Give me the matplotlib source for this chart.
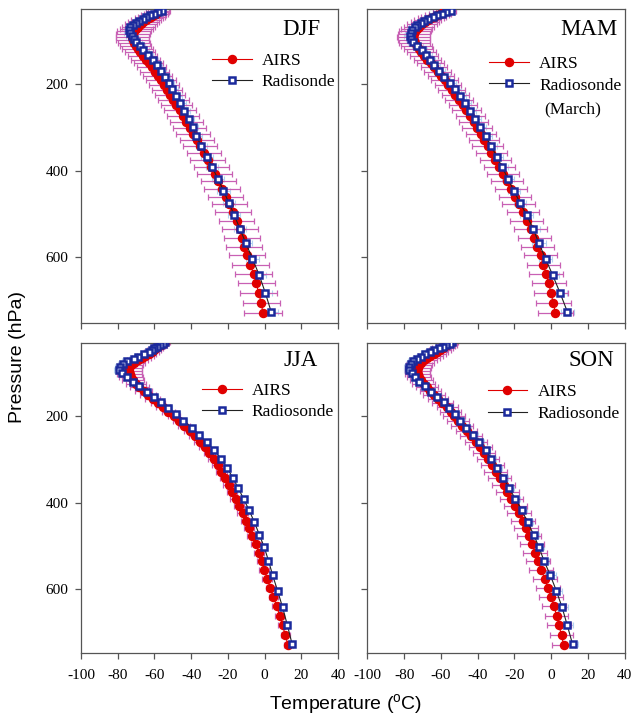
import matplotlib
matplotlib.use("Agg")
import matplotlib.pyplot as plt

plt.rcParams['font.family'] = ['Liberation Serif', 'DejaVu Serif']
plt.rcParams['mathtext.fontset'] = 'custom'
plt.rcParams['mathtext.rm'] = 'Liberation Sans'
plt.rcParams['axes.unicode_minus'] = False

# AIRS retrieval levels (hPa)
AIRS_P = [29.12, 32.27, 35.65, 39.26, 43.10, 47.19, 51.53, 56.13, 60.99, 66.13,
          71.54, 77.24, 83.23, 89.52, 96.11, 103.02, 110.24, 117.78, 125.65, 133.85,
          142.38, 151.27, 160.50, 170.08, 180.02, 190.32, 200.99, 212.03, 223.44, 235.23,
          247.41, 259.97, 272.92, 286.26, 300.00, 314.14, 328.68, 343.62, 358.97, 374.72,
          390.89, 407.47, 424.47, 441.88, 459.71, 477.96, 496.63, 515.72, 535.23, 555.17,
          575.52, 596.31, 617.51, 639.14, 661.19, 683.67, 706.57, 729.89]

# radiosonde levels (hPa)
RS_P = [30, 33, 36, 40, 44, 48, 53, 58, 63, 68,
        74, 80, 87, 94, 102, 111, 121, 132, 144, 156,
        169, 182, 196, 211, 227, 244, 261, 279, 299, 320,
        343, 367, 392, 418, 446, 474, 503, 534, 568, 604,
        642, 683, 727]

# ---- DJF ----
DJF_AIRS = [-57.3, -58.2, -59.2, -60.5, -61.8, -63.2, -64.6, -66.0, -67.4, -68.8,
            -70.0, -71.0, -71.7, -72.0, -71.8, -71.2, -70.3, -69.2, -67.9, -66.4,
            -64.8, -63.2, -61.5, -59.8, -58.1, -56.5, -54.9, -53.2, -51.5, -49.8,
            -48.0, -46.2, -44.5, -42.7, -40.9, -39.0, -37.0, -35.0, -33.0, -31.0,
            -29.0, -27.1, -25.2, -23.2, -21.2, -19.2, -17.2, -15.3, -13.6, -12.3,
            -11.0, -9.6, -7.7, -6.0, -4.5, -3.2, -1.8, -0.9]
DJF_ERR = [6.0, 6.3, 6.6, 7.0, 7.3, 7.6, 8.0, 8.3, 8.6, 8.9,
           9.0, 9.2, 9.2, 9.1, 9.0, 8.8, 8.6, 8.4, 8.2, 8.0,
           7.9, 7.8, 7.8, 7.8, 7.9, 8.0, 8.1, 8.2, 8.3, 8.4,
           8.6, 8.7, 8.8, 8.9, 9.0, 9.1, 9.2, 9.3, 9.4, 9.4,
           9.5, 9.5, 9.6, 9.6, 9.6, 9.7, 9.7, 9.7, 9.8, 9.8,
           9.8, 9.9, 9.9, 9.9, 10.0, 10.0, 10.1, 10.2]
DJF_RS = [-56.0, -58.2, -60.3, -62.5, -64.5, -66.4, -68.3, -70.2, -71.8, -73.2,
          -73.8, -73.5, -72.5, -71.4, -70.0, -68.0, -66.0, -63.5, -61.0, -58.8,
          -56.5, -54.3, -52.3, -50.3, -48.2, -46.0, -43.8, -41.3, -39.2, -37.2,
          -34.4, -31.4, -28.5, -25.5, -22.4, -19.5, -16.5, -13.5, -10.2, -6.6,
          -2.9, 0.4, 3.6]
DJF_RS_ERR = [2.5, 2.5, 2.5, 2.6, 2.6, 2.7, 2.7, 2.8, 2.8, 2.9,
              3.0, 3.0, 3.0, 3.0, 3.0, 2.9, 2.9, 2.8, 2.8, 2.8,
              2.8, 2.8, 2.9, 2.9, 3.0, 3.0, 3.0, 3.1, 3.1, 3.1,
              3.2, 3.2, 3.2, 3.3, 3.3, 3.3, 3.3, 3.4, 3.4, 3.4,
              3.5, 3.5, 3.5]

# ---- MAM ----
MAM_AIRS = [-57.1, -58.7, -60.4, -62.1, -63.8, -65.5, -67.2, -68.8, -70.4, -71.9,
            -73.2, -74.2, -74.8, -75.0, -74.8, -74.2, -73.3, -72.1, -70.7, -69.1,
            -67.4, -65.6, -63.7, -61.8, -59.9, -58.0, -56.1, -54.1, -52.1, -50.1,
            -48.1, -46.1, -44.1, -42.2, -40.3, -38.4, -36.5, -34.5, -32.5, -30.4,
            -28.3, -26.2, -24.1, -22.0, -19.9, -17.7, -15.4, -13.3, -11.2, -9.2,
            -7.4, -5.7, -4.2, -2.7, -1.3, 0.0, 1.2, 2.4]
MAM_ERR = [5.5, 5.8, 6.1, 6.5, 6.8, 7.1, 7.4, 7.7, 8.0, 8.3,
           8.5, 8.7, 8.8, 8.8, 8.7, 8.5, 8.3, 8.0, 7.8, 7.6,
           7.4, 7.3, 7.2, 7.2, 7.2, 7.3, 7.3, 7.4, 7.5, 7.6,
           7.7, 7.8, 7.9, 8.0, 8.1, 8.2, 8.3, 8.3, 8.4, 8.5,
           8.5, 8.6, 8.6, 8.7, 8.7, 8.8, 8.8, 8.9, 8.9, 9.0,
           9.0, 9.1, 9.1, 9.2, 9.2, 9.3, 9.4, 9.5]
MAM_RS = [-54.5, -57.0, -59.5, -62.0, -64.5, -66.8, -69.0, -71.0, -72.8, -74.3,
          -75.6, -76.5, -77.0, -76.2, -75.0, -72.8, -70.3, -68.0, -66.0, -63.5,
          -60.8, -58.3, -55.0, -52.3, -49.6, -46.9, -44.2, -41.4, -38.5, -35.7,
          -32.6, -29.6, -26.6, -23.5, -20.3, -16.9, -13.3, -9.8, -6.6, -3.0,
          0.9, 4.9, 8.9]
MAM_RS_ERR = [2.5, 2.5, 2.6, 2.6, 2.7, 2.7, 2.8, 2.8, 2.9, 2.9,
              3.0, 3.0, 3.0, 3.0, 3.0, 2.9, 2.9, 2.9, 2.9, 2.9,
              3.0, 3.0, 3.0, 3.1, 3.1, 3.1, 3.2, 3.2, 3.2, 3.3,
              3.3, 3.3, 3.4, 3.4, 3.4, 3.5, 3.5, 3.5, 3.6, 3.6,
              3.6, 3.7, 3.7]

# ---- JJA ----
JJA_AIRS = [-54.5, -55.4, -56.5, -57.7, -58.9, -60.2, -61.6, -63.2, -65.0, -67.0,
            -69.2, -71.2, -72.8, -73.6, -73.8, -73.5, -72.9, -71.8, -70.2, -68.2,
            -65.8, -63.4, -61.0, -58.3, -55.4, -52.5, -49.4, -46.7, -43.7, -40.9,
            -38.1, -35.4, -32.7, -30.1, -27.6, -25.5, -23.5, -21.5, -19.6, -17.7,
            -15.8, -13.9, -12.0, -10.2, -8.4, -6.6, -4.8, -3.1, -1.6, -0.2,
            1.5, 3.1, 4.8, 6.6, 8.2, 9.8, 11.3, 12.8]
JJA_ERR = [3.0, 3.0, 3.2, 3.4, 3.6, 3.8, 4.0, 4.3, 4.6, 5.0,
           5.5, 6.0, 6.5, 7.0, 7.0, 6.8, 6.4, 6.0, 5.5, 5.0,
           4.6, 4.3, 4.0, 3.8, 3.6, 3.5, 3.4, 3.3, 3.3, 3.2,
           3.2, 3.2, 3.1, 3.1, 3.1, 3.0, 3.0, 3.0, 3.0, 2.9,
           2.9, 2.9, 2.9, 2.8, 2.8, 2.8, 2.8, 2.7, 2.7, 2.7,
           2.7, 2.6, 2.6, 2.6, 2.6, 2.5, 2.5, 2.5]
JJA_RS = [-54.5, -55.5, -56.8, -58.5, -60.0, -61.4, -63.2, -65.8, -68.8, -71.3,
          -75.0, -77.3, -78.9, -79.3, -77.8, -75.2, -71.5, -68.3, -64.0, -60.3,
          -56.5, -52.5, -48.0, -44.2, -39.7, -35.5, -31.5, -27.5, -23.7, -20.4,
          -17.3, -14.3, -11.4, -8.4, -5.5, -2.9, -0.2, 2.1, 4.4, 7.1,
          9.8, 12.4, 15.0]
JJA_RS_ERR = [2.0, 2.0, 2.0, 2.1, 2.1, 2.2, 2.2, 2.3, 2.3, 2.4,
              2.5, 2.5, 2.5, 2.5, 2.4, 2.3, 2.2, 2.1, 2.0, 2.0,
              1.9, 1.9, 1.9, 1.8, 1.8, 1.8, 1.8, 1.7, 1.7, 1.7,
              1.7, 1.7, 1.6, 1.6, 1.6, 1.6, 1.6, 1.6, 1.5, 1.5,
              1.5, 1.5, 1.5]

# ---- SON ----
SON_AIRS = [-55.0, -55.7, -56.5, -57.6, -59.0, -60.5, -62.2, -64.0, -65.8, -67.6,
            -69.3, -70.8, -71.9, -72.6, -72.8, -72.5, -71.8, -70.7, -69.3, -67.6,
            -65.7, -63.8, -61.6, -59.2, -56.6, -54.7, -52.8, -50.7, -48.4, -46.0,
            -43.5, -40.9, -38.5, -36.4, -34.3, -32.1, -30.1, -28.0, -25.8, -23.8,
            -21.6, -19.5, -17.4, -15.5, -13.7, -11.9, -10.2, -8.7, -7.2, -5.4,
            -3.5, -1.8, 0.0, 1.6, 3.0, 4.3, 5.7, 6.9]
SON_ERR = [4.5, 4.7, 5.0, 5.3, 5.6, 5.9, 6.2, 6.5, 6.8, 7.0,
           7.2, 7.3, 7.3, 7.2, 7.0, 6.8, 6.6, 6.4, 6.2, 6.0,
           5.9, 5.8, 5.7, 5.7, 5.7, 5.7, 5.8, 5.8, 5.9, 5.9,
           6.0, 6.0, 6.1, 6.1, 6.2, 6.2, 6.3, 6.3, 6.3, 6.4,
           6.4, 6.4, 6.4, 6.5, 6.5, 6.5, 6.5, 6.5, 6.5, 6.5,
           6.5, 6.5, 6.4, 6.4, 6.4, 6.4, 6.3, 6.3]
SON_RS = [-54.0, -55.0, -57.0, -59.0, -61.0, -63.5, -66.0, -68.5, -71.0, -73.0,
          -75.0, -76.3, -77.2, -77.3, -76.0, -74.0, -71.8, -68.6, -65.5, -62.0,
          -58.5, -55.8, -52.3, -49.4, -46.2, -42.5, -39.0, -35.7, -32.5, -29.4,
          -26.1, -22.8, -19.4, -15.9, -12.7, -9.5, -6.6, -3.9, -0.4, 2.9,
          6.0, 8.8, 11.7]
SON_RS_ERR = [2.2, 2.2, 2.3, 2.3, 2.4, 2.4, 2.5, 2.5, 2.6, 2.6,
              2.7, 2.7, 2.7, 2.7, 2.6, 2.6, 2.5, 2.5, 2.4, 2.4,
              2.4, 2.4, 2.4, 2.5, 2.5, 2.5, 2.5, 2.6, 2.6, 2.6,
              2.7, 2.7, 2.7, 2.8, 2.8, 2.8, 2.9, 2.9, 2.9, 3.0,
              3.0, 3.0, 3.0]

SEASONS = ["DJF", "MAM", "JJA", "SON"]
RS_LABELS = ["Radisonde", "Radiosonde", "Radiosonde", "Radiosonde"]
X_TICKS = [-100, -80, -60, -40, -20, 0, 20, 40]
Y_TICKS = [200, 400, 600]

RED = '#e00000'
BLUE = '#1b2a9c'
MAGENTA = '#c860b4'
LIGHTBLUE = '#b4d2f0'
SPINE = '#555555'

# axes rectangles in figure fraction (left, bottom, width, height)
rects = [
    (0.1284, 0.5512, 0.4073, 0.4358),
    (0.5824, 0.5512, 0.4073, 0.4358),
    (0.1284, 0.0914, 0.4073, 0.4320),
    (0.5824, 0.0914, 0.4073, 0.4320),
]
ylims = [(752, 26), (752, 26), (748, 31), (748, 31)]
legend_anchor = [(0.508, 0.862), (0.474, 0.851), (0.470, 0.872), (0.467, 0.866)]
title_pos = [(0.93, 0.936), (0.973, 0.936), (0.923, 0.942), (0.96, 0.942)]

data = [
    (DJF_AIRS, DJF_ERR, DJF_RS, DJF_RS_ERR),
    (MAM_AIRS, MAM_ERR, MAM_RS, MAM_RS_ERR),
    (JJA_AIRS, JJA_ERR, JJA_RS, JJA_RS_ERR),
    (SON_AIRS, SON_ERR, SON_RS, SON_RS_ERR),
]

fig = plt.figure(figsize=(6.31, 7.19), dpi=100)

for i, (season, (airs_t, airs_err, rs_t, rs_err)) in enumerate(zip(SEASONS, data)):
    ax = fig.add_axes(rects[i])

    ax.errorbar(rs_t, RS_P, xerr=rs_err, fmt='none', ecolor=LIGHTBLUE,
                elinewidth=0.8, capsize=2, capthick=0.8, zorder=1)
    ax.errorbar(airs_t, AIRS_P, xerr=airs_err, fmt='none', ecolor=MAGENTA,
                elinewidth=0.9, capsize=2.5, capthick=0.9, zorder=2)
    ax.plot(airs_t, AIRS_P, '-', color=RED, lw=0.8, marker='o', ms=5.8,
            mfc=RED, mec=RED, zorder=3, label='AIRS')
    ax.plot(rs_t, RS_P, '-', color='#222222', lw=0.8, marker='s', ms=4.6,
            mfc='white', mec=BLUE, mew=1.8, zorder=4, label=RS_LABELS[i])

    ax.set_xlim(-100, 40)
    ax.set_ylim(*ylims[i])
    ax.set_xticks(X_TICKS)
    ax.set_yticks(Y_TICKS)

    for sp in ['top', 'right', 'left', 'bottom']:
        ax.spines[sp].set_color(SPINE)
        ax.spines[sp].set_linewidth(0.9)
    ax.tick_params(direction='out', length=4, width=0.9, color=SPINE,
                   labelsize=11, top=False, right=False)
    ax.tick_params(axis='x', pad=7)
    ax.tick_params(axis='y', pad=5)
    if i < 2:
        ax.tick_params(axis='x', labelbottom=False)
    if i % 2 == 1:
        ax.tick_params(axis='y', labelleft=False)

    ax.text(title_pos[i][0], title_pos[i][1], season, transform=ax.transAxes,
            ha='right', va='center', fontsize=16.5)

    ax.legend(loc='upper left', bbox_to_anchor=legend_anchor[i], frameon=False,
              fontsize=12.5, handlelength=2.3, handletextpad=0.58,
              labelspacing=0.3, borderpad=0, borderaxespad=0)
    if season == "MAM":
        ax.text(0.688, 0.681, "(March)", transform=ax.transAxes,
                ha='left', va='center', fontsize=12.5)

fig.text(0.027, 0.503, 'Pressure (hPa)', rotation=90, ha='center', va='center',
         fontsize=14, family='Liberation Sans')
fig.text(0.547, 0.0125, r'Temperature ($^\mathrm{o}$C)', ha='center', va='baseline',
         fontsize=14, family='Liberation Sans')

fig.savefig('out.png', dpi=100)
